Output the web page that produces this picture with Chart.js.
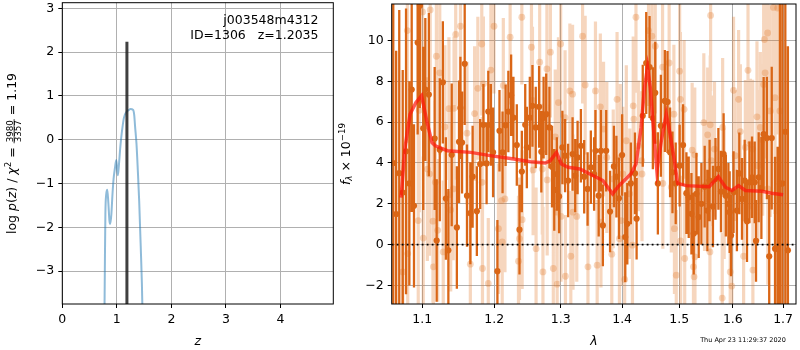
<!DOCTYPE html>
<html>
<head>
<meta charset="utf-8">
<script src="https://cdn.jsdelivr.net/npm/chart.js@4.4.0/dist/chart.umd.min.js"></script>
<style>
body { margin:0; background:#fff; }
canvas { position:absolute; top:0; }
#pz { left:0; }
#sp { left:335px; }
</style>
</head>
<body>
<canvas id="pz" width="345" height="350"></canvas>
<canvas id="sp" width="465" height="350"></canvas>
<script>
// left panel: redshift probability
var zTicks = [0, 1, 2, 3, 4];
var pTicks = [-3, -2, -1, 0, 1, 2, 3];
var pzZ =   [0.770, 0.780, 0.790, 0.805, 0.825, 0.845, 0.865, 0.880, 0.900, 0.920, 0.940, 0.965, 0.990, 1.005, 1.020, 1.040, 1.065, 1.090, 1.130, 1.180, 1.220, 1.250, 1.300, 1.320, 1.335, 1.360, 1.385, 1.410, 1.440, 1.460, 1.480];
var pzLog = [-4.5, -3.0, -1.7, -1.25, -1.14, -1.45, -1.85, -1.92, -1.7, -1.25, -0.9, -0.65, -0.46, -0.65, -0.81, -0.55, -0.15, 0.15, 0.50, 0.64, 0.68, 0.70, 0.68, 0.55, 0.30, -0.08, -0.70, -1.40, -2.50, -3.30, -4.5];
var zBest = 1.185;
var zBestTop = 2.24;

// right panel: spectrum
var lamTicks = [1.1, 1.2, 1.3, 1.4, 1.5, 1.6, 1.7];
var fTicks = [-2, 0, 2, 4, 6, 8, 10];
var darkWave = [1.0623, 1.0660, 1.0700, 1.0745, 1.0788, 1.0831, 1.0862, 1.0892, 1.0940, 1.0970, 1.1014, 1.1042, 1.1089, 1.1167, 1.1194, 1.1236, 1.1278, 1.1319, 1.1353, 1.1399, 1.1470, 1.1500,
  1.1519, 1.1542, 1.1579, 1.1611, 1.1658, 1.1690, 1.1750, 1.1797, 1.1843, 1.1889, 1.1913, 1.1950, 1.1982, 1.2045, 1.2075, 1.2120, 1.2165, 1.2205, 1.2246, 1.2280, 1.2330, 1.2370, 1.2405, 1.2456, 1.2480,
  1.2525, 1.2565, 1.2615, 1.2666, 1.2700, 1.2735, 1.2775, 1.2825, 1.2865, 1.2900, 1.2940, 1.2975, 1.3027, 1.3069, 1.3117, 1.3188, 1.3230, 1.3268, 1.3321, 1.3374, 1.3429, 1.3482, 1.3535,
  1.3557, 1.3610, 1.3647, 1.3679, 1.3734, 1.3798, 1.3862, 1.3904, 1.3947, 1.4000, 1.4053, 1.4088, 1.4148, 1.4219, 1.4247, 1.4353, 1.4413, 1.4471, 1.4529, 1.4571, 1.4617, 1.4670,
  1.4741, 1.4788, 1.4834, 1.4877, 1.4935, 1.5006, 1.5068, 1.5129, 1.5171, 1.5221, 1.5263, 1.5313, 1.5355, 1.5405, 1.5466, 1.5516, 1.5558, 1.5621, 1.5669, 1.5724, 1.5773, 1.5823, 1.5866, 1.5915,
  1.5939, 1.5965, 1.6014, 1.6079, 1.6126, 1.6178, 1.6231, 1.6276, 1.6324, 1.6375, 1.6428, 1.6454, 1.6507, 1.6561, 1.6606, 1.6671, 1.6718, 1.6769, 1.6836, 1.6888, 1.6935, 1.6986, 1.7046, 1.7099];
var darkFlux = [4.0, 1.5, 3.5, 2.55, 4.57, 3.0, 7.6, 1.9, 9.9, 11.7, 5.7, 7.6, 7.35, 5.2, 0.2, 4.65, 7.95, 2.26, -0.28, 4.4, 0.84, 5.04,
  6.7, 5.0, 8.86, 2.4, 1.54, 3.33, 1.64, 3.95, 5.87, 3.98, 6.52, 5.87, 4.52, -1.3, 5.58, 4.52, 5.85, 6.52, 7.32, 6.22, 4.88, 0.73, 3.58, 5.87, 4.76,
  6.22, 6.8, 5.74, 6.75, 4.55, 6.22, 6.39, 5.74, 3.82, 2.68, 3.46, 2.36, 4.76, 4.36, 3.14, 4.44, 3.38, 4.27, 4.84, 3.33, 2.73, 3.79, 3.46,
  4.6, 2.4, 4.6, 0.94, 4.6, 1.62, 3.83, 3.33, 2.27, 4.39, 0.37, 1.02, 3.0, 3.49, 1.27, 6.31, 8.9, 8.7, 6.19, 7.44, 3.0, 5.82,
  7.04, 6.99, 4.52, 3.54, 3.0, 3.87, 4.88, 2.52, 2.32, 1.51, 0.54, 2.49, 1.35, 2.0, 2.84, 1.67, 3.14, 1.87, 3.22, 3.71, 2.6, 4.44, 2.4, 2.0,
  1.59, 0.45, 2.57, 1.67, 3.49, 2.24, 3.14, 1.15, 3.05, 3.3, 3.05, 0.18, 3.3, 2.78, 5.41, 5.22, -0.57, 5.22, -0.2, -0.2, 2.98, 3.0, 5.53, -0.28];
var darkErr = [10, 8, 8, 6, 7, 5, 6, 4, 4.5, 5, 4, 3.5, 4, 3.5, 3, 3.5, 3, 3, 3, 3.5, 3, 3,
  2.5, 2.5, 3, 2.5, 2.5, 2.5, 2.2, 2.2, 2, 2, 2, 2, 2.2, 2.5, 2, 2, 2, 2, 2, 2, 2, 2.2, 2, 2, 2,
  2, 2, 2, 2, 2, 2, 2, 2, 2, 2, 1.8, 1.8, 1.8, 1.8, 1.8, 1.8, 1.8, 1.8, 1.8, 1.8, 1.8, 1.8, 1.8,
  2, 2, 2, 2, 2, 2, 2, 2, 2, 2, 2.2, 2, 2, 2, 2, 2.5, 2.5, 2.5, 2.5, 2.5, 2.5, 2.5,
  2.5, 2.5, 2.2, 2, 2, 2, 2, 2, 2, 2, 2, 2, 2, 2, 2, 2, 2, 2, 2, 2, 2, 2, 2, 2,
  2, 2, 2, 2, 2, 2, 2, 2, 2, 2, 2, 2, 2.2, 2.5, 2.8, 3, 3, 3.5, 4.5, 5, 9, 10, 10, 10];
var lightWave = [1.0745, 1.0805, 1.0810, 1.0948, 1.0961, 1.1005, 1.1014, 1.1069, 1.1097, 1.1107, 1.1144, 1.1150, 1.1176, 1.1190, 1.1208, 1.1236, 1.1283, 1.1306, 1.1361, 1.1370, 1.1385, 1.1420, 1.1431, 1.1454, 1.1520,
  1.1611, 1.1658, 1.1718, 1.1764, 1.1820, 1.1825, 1.1830, 1.1843, 1.1913, 1.1950, 1.1996, 1.2060, 1.2105, 1.2115, 1.2131, 1.2155, 1.2231, 1.2355, 1.2370, 1.2405, 1.2410,
  1.2550, 1.2565, 1.2575, 1.2620, 1.2675, 1.2715, 1.2725, 1.2786, 1.2790, 1.2840, 1.2885, 1.2915, 1.2940, 1.2945, 1.2965, 1.3000, 1.3005, 1.3069, 1.3075, 1.3145, 1.3160, 1.3188, 1.3195, 1.3255, 1.3348, 1.3390, 1.3435,
  1.3557, 1.3585, 1.3637, 1.3647, 1.3690, 1.3744, 1.3827, 1.3851, 1.3915, 1.3955, 1.3970, 1.3985, 1.4012, 1.4043, 1.4071, 1.4130, 1.4176, 1.4189, 1.4200, 1.4236, 1.4277, 1.4335, 1.4340, 1.4453, 1.4512, 1.4571,
  1.4700, 1.4705, 1.4817, 1.4856, 1.4902, 1.4912, 1.4945, 1.5006, 1.5020, 1.5024, 1.5087, 1.5098, 1.5234, 1.5258, 1.5270, 1.5282, 1.5286, 1.5450, 1.5463, 1.5522, 1.5565, 1.5570, 1.5577, 1.5590, 1.5650,
  1.5797, 1.5805, 1.5834, 1.5950, 1.5981, 1.6014, 1.6047, 1.6112, 1.6146, 1.6210, 1.6244, 1.6296, 1.6343, 1.6389, 1.6392, 1.6473, 1.6493, 1.6540, 1.6586, 1.6606, 1.6622, 1.6635, 1.6686, 1.6690, 1.6737, 1.6803, 1.6836, 1.6890, 1.6935];
var lightFlux = [-1.34, 10.49, -0.44, 1.18, 6.58, 11.4, 0.32, 3.7, 3.46, 11.5, 1.15, -1.09, 3.05, 9.23, 0.7, 8.42, -0.36, 5.77, 6.66, 2.45, 1.7, 2.73, 6.68, 10.3, 10.7,
  5.46, -0.96, 6.42, 7.66, 9.83, 3.05, -1.17, 7.88, -1.9, 8.55, 10.7, 0.78, 2.16, 0.13, 7.8, 2.24, 10.16, -0.81, 0.29, 11.14, 1.22,
  9.67, 7.07, 3.66, -0.2, 8.94, 3.7, -1.34, 8.61, 3.17, 9.43, -1.17, 5.28, 1.59, -1.94, 6.96, 9.83, 1.38, 6.22, -1.55, 7.53, -0.57, 7.37, 1.59, 1.38, 10.21, 7.82, -1.09,
  7.53, -1.01, 6.75, 1.1, 5.66, 4.27, -0.47, 3.22, 7.12, 0.29, 4.27, 1.18, 3.46, -1.71, 5.09, 2.49, -0.03, 6.8, 6.15, 11.14, 4.84, 4.11, 3.46, 10.49, 10.21, 9.72,
  8.7, 3.0, 8.9, 2.81, 6.39, 0.78, -1.5, 8.5, 7.12, 0.18, 6.63, -0.68, 4.63, -1.09, -1.58, 4.4, -0.6, 5.98, 2.89, 5.38, -0.36, 5.87, 11.23, 4.11, 4.68,
  -2.62, 5.74, 2.49, -1.34, -2.03, 7.56, 4.36, 7.12, 5.54, -0.57, 4.76, 8.54, 4.93, 4.68, -1.25, 6.26, 3.87, 5.74, 5.12, 7.85, 10.05, 8.42, 10.37, 2.73, 6.55, 11.62, 7.2, 11.59, 6.55];
var lightErr = [5.5, 5.5, 5, 4.5, 5, 4.5, 4, 4.5, 4, 4, 4, 3.5, 4, 4, 3.5, 4, 3.5, 4, 3.5, 3.5, 4, 3.5, 3.5, 3.5, 3.5,
  3.5, 3.5, 3.3, 3.5, 3.5, 3.2, 3.2, 3.3, 3.2, 3.5, 3.3, 3.2, 3.4, 3.2, 3.3, 3.6, 3.3, 3.2, 3, 3.3, 3.4,
  3.3, 3.6, 3.2, 3, 3.4, 3.2, 3.2, 3.4, 3.7, 3.2, 3, 3.3, 3.4, 3.2, 3.2, 3.6, 3.2, 3.3, 3, 3.3, 3.2, 3.4, 3.8, 3.2, 3.3, 3.4, 3.2,
  3.4, 3.2, 3.6, 3.2, 3.3, 3.7, 3.2, 3.4, 3.3, 3.2, 3.6, 3.2, 3.3, 3.2, 3.7, 3.2, 3.3, 3.4, 3.3, 3.7, 3.2, 3.4, 3.3, 3.7, 3.4, 3.3,
  3.4, 3.2, 3.7, 3.2, 3.4, 3.2, 3.2, 3.6, 3.3, 3.2, 3.4, 3.2, 3.3, 3.2, 3.4, 3.3, 3.2, 3.4, 3.2, 3.3, 3.2, 3.4, 3.7, 3.2, 3.3,
  3.2, 3.4, 3.2, 3.3, 3.4, 3.6, 3.2, 3.4, 3.3, 3.2, 3.3, 3.6, 3.2, 3.4, 3.2, 3.7, 3.7, 3.7, 3.7, 4.2, 4.2, 4.2, 4.7, 4.7, 5.2, 5.2, 5.7, 6.2, 6.2];
var modelWave = [1.0723, 1.0775, 1.0840, 1.0918, 1.0992, 1.1061, 1.1131, 1.1176, 1.1339, 1.1663, 1.1941, 1.2285, 1.2535, 1.2760, 1.2835, 1.2935, 1.3011, 1.3117, 1.3305, 1.3679, 1.3839, 1.3947,
  1.4148, 1.4236, 1.4325, 1.4383, 1.4436, 1.4484, 1.4547, 1.4600, 1.4678, 1.4766, 1.4824, 1.4912, 1.4970, 1.5123, 1.5552, 1.5723, 1.5859, 1.5982, 1.6112, 1.6244, 1.6572, 1.6769, 1.7000];
var modelFlux = [2.3, 4.76, 6.39, 6.96, 7.3, 6.06, 5.0, 4.84, 4.6, 4.52, 4.36, 4.19, 4.06, 4.0, 4.11, 4.52, 3.95, 3.79, 3.71, 3.14, 2.49, 2.89,
  3.46, 3.95, 5.74, 7.69, 8.7, 7.69, 5.43, 3.62, 5.09, 6.39, 5.58, 4.11, 3.0, 2.89, 2.84, 3.33, 2.81, 2.65, 2.89, 2.65, 2.61, 2.52, 2.44];

var lamMin = 1.0603, lamMax = 1.7267;

var F = '12.5px "DejaVu Sans"';
var FI = 'italic 12.5px "DejaVu Sans"';
var FS = '8.7px "DejaVu Sans"';
var FSI = 'italic 8.7px "DejaVu Sans"';
Chart.defaults.color = '#000';
Chart.defaults.font.family = 'DejaVu Sans';
Chart.defaults.font.size = 12.5;

function minus(v) { return v < 0 ? '\u2212' + Math.abs(v) : String(v); }
function setTicks(list) { return function (s) { s.ticks = list.map(function (v) { return {value: v}; }); }; }
function fitW(w) { return function (s) { s.width = w; s.paddingLeft = s.paddingRight = s.paddingTop = s.paddingBottom = 0; }; }
function fitH(h) { return function (s) { s.height = h; s.paddingLeft = s.paddingRight = s.paddingTop = s.paddingBottom = 0; }; }
function axis(extra) {
  var a = {
    grid: {color: '#b0b0b0', tickColor: '#000', tickLength: 4, lineWidth: 1},
    border: {display: false},
    ticks: {font: {size: 12.5}, color: '#000', padding: 4, maxRotation: 0, autoSkip: false, callback: minus}
  };
  return Object.assign(a, extra);
}

// rotated label made of pieces, some raised or lowered
function richText(ctx, x0, y0, parts) {
  var w = 0;
  parts.forEach(function (p) {
    ctx.font = p.f;
    p.w = p.frac ? Math.max(ctx.measureText(p.frac[0]).width, ctx.measureText(p.frac[1]).width) + 2 : ctx.measureText(p.t).width;
    w += p.w;
  });
  ctx.save();
  ctx.translate(x0, y0);
  ctx.rotate(-Math.PI / 2);
  ctx.textBaseline = 'alphabetic';
  var u = -w / 2;
  parts.forEach(function (p) {
    ctx.font = p.f;
    if (p.frac) {
      ctx.textAlign = 'center';
      ctx.fillText(p.frac[0], u + p.w / 2, -2.6);
      ctx.fillText(p.frac[1], u + p.w / 2, 5.8);
      ctx.fillRect(u, -1.8, p.w, 0.8);
    } else {
      ctx.textAlign = 'left';
      ctx.fillText(p.t, u, p.dy || 0);
    }
    u += p.w;
  });
  ctx.restore();
}

function frame(c) {
  var a = c.chartArea, ctx = c.ctx;
  ctx.save();
  ctx.strokeStyle = '#000';
  ctx.lineWidth = 1;
  ctx.strokeRect(a.left, a.top, a.right - a.left, a.bottom - a.top);
  ctx.restore();
}

var pzText = {
  id: 'pzText',
  afterDraw: function (c) {
    var ctx = c.ctx;
    frame(c);
    ctx.save();
    ctx.fillStyle = '#000';
    ctx.font = F;
    ctx.textAlign = 'right';
    ctx.fillText('j003548m4312', 318.5, 24);
    ctx.fillText('ID=1306   z=1.2035', 318.5, 38.5);
    ctx.textAlign = 'center';
    ctx.font = FI;
    ctx.fillText('z', 197.8, 345);
    richText(ctx, 15.5, 153.5, [
      {t: 'log ', f: F}, {t: 'p', f: FI}, {t: '(', f: F}, {t: 'z', f: FI}, {t: ') / ', f: F},
      {t: '\u03c7', f: FI}, {t: '2', f: FS, dy: -5}, {t: ' = ', f: F}, {frac: ['3980', '3357'], f: FS}, {t: ' = 1.19', f: F}
    ]);
    ctx.restore();
  }
};

var spText = {
  id: 'spText',
  afterDraw: function (c) {
    var ctx = c.ctx;
    frame(c);
    ctx.save();
    ctx.fillStyle = '#000';
    ctx.textAlign = 'center';
    ctx.font = FI;
    ctx.fillText('\u03bb', 594 - 335, 345);
    ctx.font = '6.5px "DejaVu Sans"';
    ctx.fillText('Thu Apr 23 11:29:37 2020', 743 - 335, 342);
    richText(ctx, 349.5 - 335, 154, [
      {t: 'f', f: FI}, {t: '\u03bb', f: FSI, dy: 2.5}, {t: ' \u00d7 10', f: F}, {t: '\u221219', f: FS, dy: -5}
    ]);
    ctx.restore();
  }
};

var pzCurve = pzZ.map(function (z, i) { return {x: z, y: pzLog[i]}; });

new Chart('pz', {
  type: 'line',
  data: {
    datasets: [{
      data: [{x: zBest, y: -4}, {x: zBest, y: zBestTop}],
      borderColor: 'rgba(30,30,30,0.85)', borderWidth: 3, pointRadius: 0, clip: 0, borderCapStyle: 'butt', order: 0
    }, {
      data: pzCurve,
      borderColor: 'rgba(31,119,180,0.5)', borderWidth: 2, pointRadius: 0, clip: 0, cubicInterpolationMode: 'monotone', order: 1
    }]
  },
  options: {
    responsive: false, animation: false, devicePixelRatio: 1,
    layout: {padding: {left: 0, right: 11.7, top: 2.7, bottom: 0}},
    plugins: {legend: {display: false}, tooltip: {enabled: false}},
    scales: {
      x: axis({type: 'linear', min: 0, max: 4.97, afterBuildTicks: setTicks(zTicks), afterFit: fitH(46)}),
      y: axis({type: 'linear', min: -3.75, max: 3.13, afterBuildTicks: setTicks(pTicks), afterFit: fitW(62.3)})
    }
  },
  plugins: [pzText]
});

function errSegs(w, f, e) {
  var out = [];
  for (var i = 0; i < w.length; i++) {
    out.push({x: w[i], y: f[i] - e[i]}, {x: w[i], y: f[i] + e[i]}, {x: w[i], y: null});
  }
  return out;
}
function pts(w, f) { return w.map(function (x, i) { return {x: x, y: f[i]}; }); }

var dark = 'rgb(218,102,22)';
var light = 'rgba(226,118,40,0.3)';

new Chart('sp', {
  type: 'line',
  data: {
    datasets: [{
      data: [{x: lamMin, y: 0}, {x: lamMax, y: 0}],
      borderColor: '#000', borderWidth: 1.8, borderDash: [1.8, 3.2], pointRadius: 0, clip: 0, order: 0
    }, {
      data: pts(modelWave, modelFlux),
      borderColor: 'rgba(255,20,12,0.7)', borderWidth: 3.5, pointRadius: 0, clip: 0, order: 1
    }, {
      data: pts(darkWave, darkFlux), showLine: false,
      pointRadius: 3.1, pointBackgroundColor: dark, pointBorderWidth: 0, clip: 0, order: 2
    }, {
      data: errSegs(darkWave, darkFlux, darkErr),
      borderColor: dark, borderWidth: 2.3, borderCapStyle: 'butt', pointRadius: 0, clip: 0, order: 3
    }, {
      data: pts(lightWave, lightFlux), showLine: false,
      pointRadius: 3.4, pointBackgroundColor: light, pointBorderWidth: 0, clip: 0, order: 4
    }, {
      data: errSegs(lightWave, lightFlux, lightErr),
      borderColor: light, borderWidth: 3.2, borderCapStyle: 'butt', pointRadius: 0, clip: 0, order: 5
    }]
  },
  options: {
    responsive: false, animation: false, devicePixelRatio: 1,
    layout: {padding: {left: 0, right: 1.7, top: 2.7, bottom: 0}},
    plugins: {legend: {display: false}, tooltip: {enabled: false}},
    scales: {
      x: axis({type: 'logarithmic', min: lamMin, max: lamMax, afterBuildTicks: setTicks(lamTicks), afterFit: fitH(46),
        ticks: {font: {size: 12.5}, color: '#000', padding: 4, maxRotation: 0, autoSkip: false, callback: function (v) { return v.toFixed(1); }}}),
      y: axis({type: 'linear', min: -2.91, max: 11.79, afterBuildTicks: setTicks(fTicks), afterFit: fitW(56.7)})
    }
  },
  plugins: [spText]
});
</script>
</body>
</html>
